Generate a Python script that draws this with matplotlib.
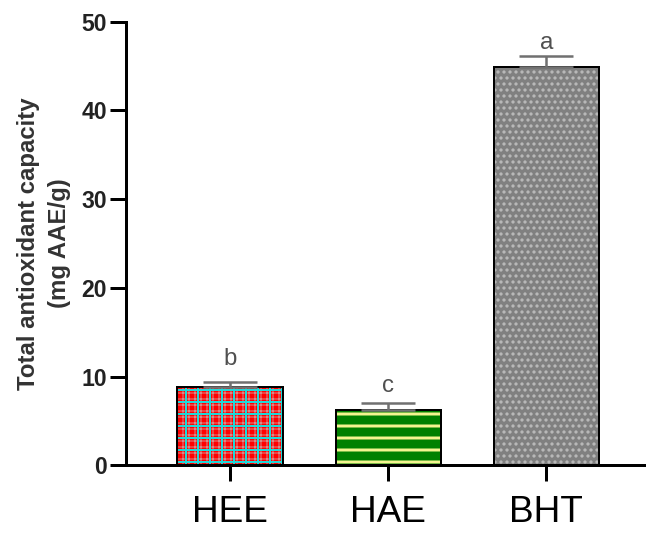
import matplotlib
matplotlib.use("Agg")
import matplotlib.pyplot as plt
import matplotlib.transforms as mtransforms

# data
groups = ["HEE", "HAE", "BHT"]
values = [8.8, 6.2, 44.9]
errors = [0.55, 0.8, 1.2]
letters = ["b", "c", "a"]

faces = ["#ff0000", "#008000", "#808080"]
hatch_colors = ["#20d8d8", "#f4f490", "#bdbdbd"]
hatches = ["+", "-", ".."]
hatch_lw = [2.0, 3.0, 2.0]
label_drop = [0, 8, 15]  # the x labels are staggered in the original
letter_gap = [1.4, 0.7, 0.25]

plt.rcParams["font.family"] = ["Liberation Sans", "DejaVu Sans"]

fig = plt.figure(figsize=(646 / 72, 540 / 72), dpi=72)
ax = fig.add_axes([0.195, 0.138, 0.805, 0.822])

x = list(range(len(groups)))
width = 0.665


def set_hlw(bars, lw):
    for p in bars:
        if hasattr(p, "set_hatch_linewidth"):
            p.set_hatch_linewidth(lw)


for i in x:
    ax.bar(x[i], values[i], width=width, color=faces[i], linewidth=0, zorder=2)
    if i == 0:
        # faint in-between lines of the plaid
        b = ax.bar(x[i], values[i], width=width, facecolor="none", edgecolor="#d88888",
                   hatch="++", linewidth=0, zorder=2.2)
        set_hlw(b, 1.0)
    b = ax.bar(x[i], values[i], width=width, facecolor="none", edgecolor=hatch_colors[i],
               hatch=hatches[i], linewidth=0, zorder=2.5)
    set_hlw(b, hatch_lw[i])
    # outline on top
    ax.bar(x[i], values[i], width=width, facecolor="none", edgecolor="black",
           linewidth=2, zorder=3)

ax.errorbar(x, values, yerr=[[0] * 3, errors], fmt="none", ecolor="#707070",
            elinewidth=2.5, capsize=27, capthick=2.5, zorder=4)

for i in x:
    ax.text(x[i], values[i] + errors[i] + letter_gap[i], letters[i], ha="center",
            va="bottom", fontsize=24, color="#505050")

ax.set_xlim(-0.658, 2.63)
ax.set_ylim(0, 50)
ax.set_yticks([0, 10, 20, 30, 40, 50])
ax.set_xticks(x)
ax.set_xticklabels(groups, fontsize=37)
for lab, d in zip(ax.get_xticklabels(), label_drop):
    lab.set_transform(lab.get_transform() +
                      mtransforms.ScaledTranslation(0, -d / 72, fig.dpi_scale_trans))

for t in ax.get_yticklabels():
    t.set_fontsize(23)
    t.set_fontweight("bold")
    t.set_color("#222222")

ax.spines["top"].set_visible(False)
ax.spines["right"].set_visible(False)
ax.spines["left"].set_linewidth(3)
ax.spines["bottom"].set_linewidth(3)
ax.tick_params(axis="y", length=16, width=3, pad=3)
ax.tick_params(axis="x", length=16, width=3, pad=14)

ax.set_ylabel("Total antioxidant capacity\n(mg AAE/g)", fontsize=24, fontweight="bold",
              color="#333333", labelpad=10, linespacing=1.45)

fig.savefig("out.png", dpi=72)
